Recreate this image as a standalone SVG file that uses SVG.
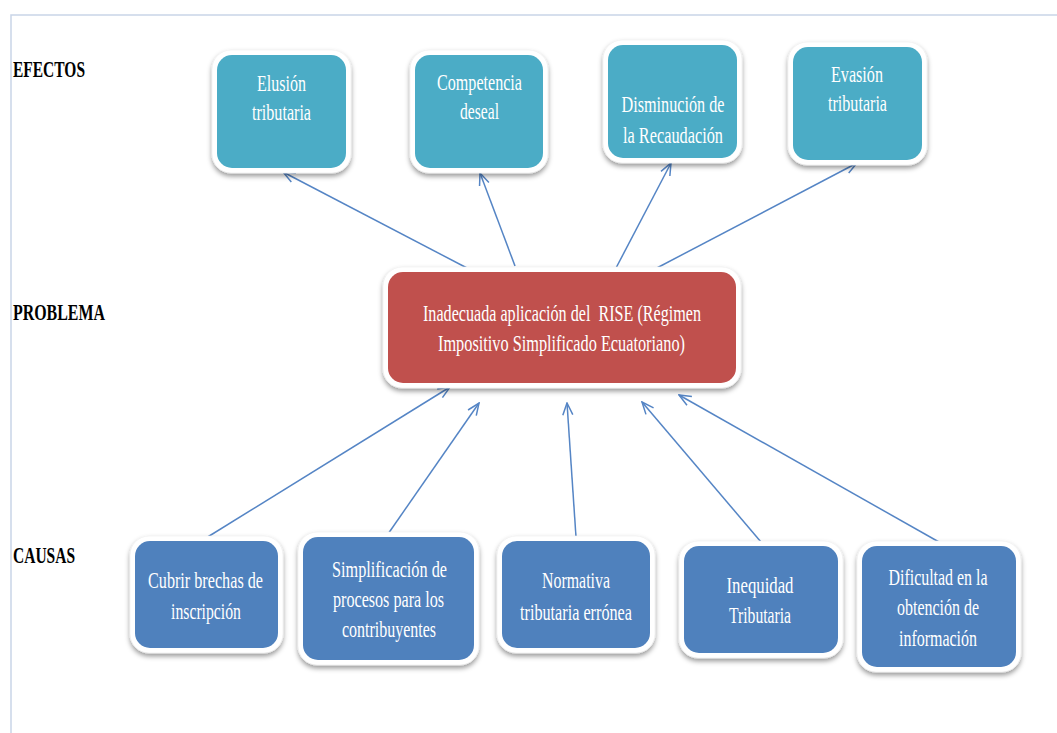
<svg xmlns="http://www.w3.org/2000/svg" width="1057" height="733" viewBox="0 0 1057 733">
<style>
.t{font-family:"Liberation Serif","Times New Roman",serif;font-size:23px;fill:#ffffff;text-anchor:middle;white-space:pre}
.lab{font-family:"Liberation Serif","Times New Roman",serif;font-size:23px;font-weight:bold;fill:#000000}
.frame{stroke:#c9d5e8;stroke-width:1.5;fill:none}
.outer{fill:#ffffff;stroke:#ececec;stroke-width:0.6}
.eff{fill:#4bacc6}
.prob{fill:#c0504d}
.cau{fill:#4f81bd}
.conn line{stroke:#5585c5;stroke-width:1.5;fill:none}
</style>
<defs>
<filter id="sh" x="-10%" y="-10%" width="120%" height="130%">
<feDropShadow dx="0" dy="3" stdDeviation="2.5" flood-color="#000" flood-opacity="0.4"/>
</filter>
<marker id="arr" viewBox="0 0 14 12" refX="13" refY="6" markerWidth="14" markerHeight="12" markerUnits="userSpaceOnUse" orient="auto">
<path d="M1,1 L13,6 L1,11" fill="none" stroke="#5585c5" stroke-width="1.5"/>
</marker>
</defs>
<rect width="1057" height="733" fill="#ffffff"/>
<path class="frame" d="M11,733 L11,15 L1057,15"/>

<text class="lab" x="13" y="77" textLength="72" lengthAdjust="spacingAndGlyphs">EFECTOS</text>
<text class="lab" x="13" y="320" textLength="92" lengthAdjust="spacingAndGlyphs">PROBLEMA</text>
<text class="lab" x="13" y="563" textLength="62" lengthAdjust="spacingAndGlyphs">CAUSAS</text>

<g id="connectors" class="conn">
<line x1="467" y1="268" x2="283" y2="172" marker-end="url(#arr)"/>
<line x1="515" y1="266" x2="480" y2="173" marker-end="url(#arr)"/>
<line x1="616" y1="268" x2="671" y2="163" marker-end="url(#arr)"/>
<line x1="653" y1="270" x2="857" y2="163" marker-end="url(#arr)"/>
<line x1="206" y1="538" x2="450" y2="387" marker-end="url(#arr)"/>
<line x1="388" y1="534" x2="479" y2="403" marker-end="url(#arr)"/>
<line x1="576" y1="537" x2="567" y2="403" marker-end="url(#arr)"/>
<line x1="761" y1="542" x2="642" y2="402" marker-end="url(#arr)"/>
<line x1="939" y1="542" x2="679" y2="395" marker-end="url(#arr)"/>
</g>

<g id="n-elusion">
<rect class="outer" x="212" y="50" width="139" height="123" rx="19" filter="url(#sh)"/>
<rect class="eff" x="217" y="55" width="129" height="113" rx="15"/>
<text class="t" x="281.5" y="91" textLength="49" lengthAdjust="spacingAndGlyphs">Elusión</text>
<text class="t" x="281.5" y="120" textLength="59" lengthAdjust="spacingAndGlyphs">tributaria</text>
</g>
<g id="n-competencia">
<rect class="outer" x="410" y="50" width="138" height="123" rx="19" filter="url(#sh)"/>
<rect class="eff" x="415" y="55" width="128" height="113" rx="15"/>
<text class="t" x="479.5" y="90" textLength="85" lengthAdjust="spacingAndGlyphs">Competencia</text>
<text class="t" x="479.5" y="119" textLength="39" lengthAdjust="spacingAndGlyphs">deseal</text>
</g>
<g id="n-disminucion">
<rect class="outer" x="603" y="40" width="139" height="123" rx="19" filter="url(#sh)"/>
<rect class="eff" x="608" y="45" width="129" height="113" rx="15"/>
<text class="t" x="673" y="112" textLength="103" lengthAdjust="spacingAndGlyphs">Disminución de</text>
<text class="t" x="673" y="143" textLength="100" lengthAdjust="spacingAndGlyphs">la Recaudación</text>
</g>
<g id="n-evasion">
<rect class="outer" x="788" y="42" width="139" height="123" rx="19" filter="url(#sh)"/>
<rect class="eff" x="793" y="47" width="129" height="113" rx="15"/>
<text class="t" x="857" y="82" textLength="52" lengthAdjust="spacingAndGlyphs">Evasión</text>
<text class="t" x="857.5" y="111" textLength="59" lengthAdjust="spacingAndGlyphs">tributaria</text>
</g>

<g id="n-problema">
<rect class="outer" x="383" y="267" width="358" height="121" rx="19" filter="url(#sh)"/>
<rect class="prob" x="388" y="272" width="348" height="111" rx="15"/>
<text class="t" x="562" y="321" textLength="278" lengthAdjust="spacingAndGlyphs" xml:space="preserve">Inadecuada aplicación del  RISE (Régimen</text>
<text class="t" x="561.5" y="351" textLength="247" lengthAdjust="spacingAndGlyphs">Impositivo Simplificado Ecuatoriano)</text>
</g>

<g id="n-cubrir">
<rect class="outer" x="130" y="536" width="153" height="117" rx="19" filter="url(#sh)"/>
<rect class="cau" x="135" y="541" width="143" height="107" rx="15"/>
<text class="t" x="205.5" y="588" textLength="115" lengthAdjust="spacingAndGlyphs">Cubrir brechas de</text>
<text class="t" x="206" y="619" textLength="70" lengthAdjust="spacingAndGlyphs">inscripción</text>
</g>
<g id="n-simplificacion">
<rect class="outer" x="298" y="532" width="181" height="133" rx="19" filter="url(#sh)"/>
<rect class="cau" x="303" y="537" width="171" height="123" rx="15"/>
<text class="t" x="389.5" y="577" textLength="115" lengthAdjust="spacingAndGlyphs">Simplificación de</text>
<text class="t" x="388.5" y="607" textLength="111" lengthAdjust="spacingAndGlyphs">procesos para los</text>
<text class="t" x="389" y="637" textLength="94" lengthAdjust="spacingAndGlyphs">contribuyentes</text>
</g>
<g id="n-normativa">
<rect class="outer" x="497" y="536" width="158" height="117" rx="19" filter="url(#sh)"/>
<rect class="cau" x="502" y="541" width="148" height="107" rx="15"/>
<text class="t" x="576" y="588" textLength="68" lengthAdjust="spacingAndGlyphs">Normativa</text>
<text class="t" x="576" y="620" textLength="112" lengthAdjust="spacingAndGlyphs">tributaria errónea</text>
</g>
<g id="n-inequidad">
<rect class="outer" x="679" y="541" width="164" height="117" rx="19" filter="url(#sh)"/>
<rect class="cau" x="684" y="546" width="154" height="107" rx="15"/>
<text class="t" x="760" y="593" textLength="67" lengthAdjust="spacingAndGlyphs">Inequidad</text>
<text class="t" x="760" y="623" textLength="62" lengthAdjust="spacingAndGlyphs">Tributaria</text>
</g>
<g id="n-dificultad">
<rect class="outer" x="857" y="541" width="164" height="131" rx="19" filter="url(#sh)"/>
<rect class="cau" x="862" y="546" width="154" height="121" rx="15"/>
<text class="t" x="938" y="585" textLength="99" lengthAdjust="spacingAndGlyphs">Dificultad en la</text>
<text class="t" x="938" y="615" textLength="82" lengthAdjust="spacingAndGlyphs">obtención de</text>
<text class="t" x="938" y="646" textLength="78" lengthAdjust="spacingAndGlyphs">información</text>
</g>
</svg>
